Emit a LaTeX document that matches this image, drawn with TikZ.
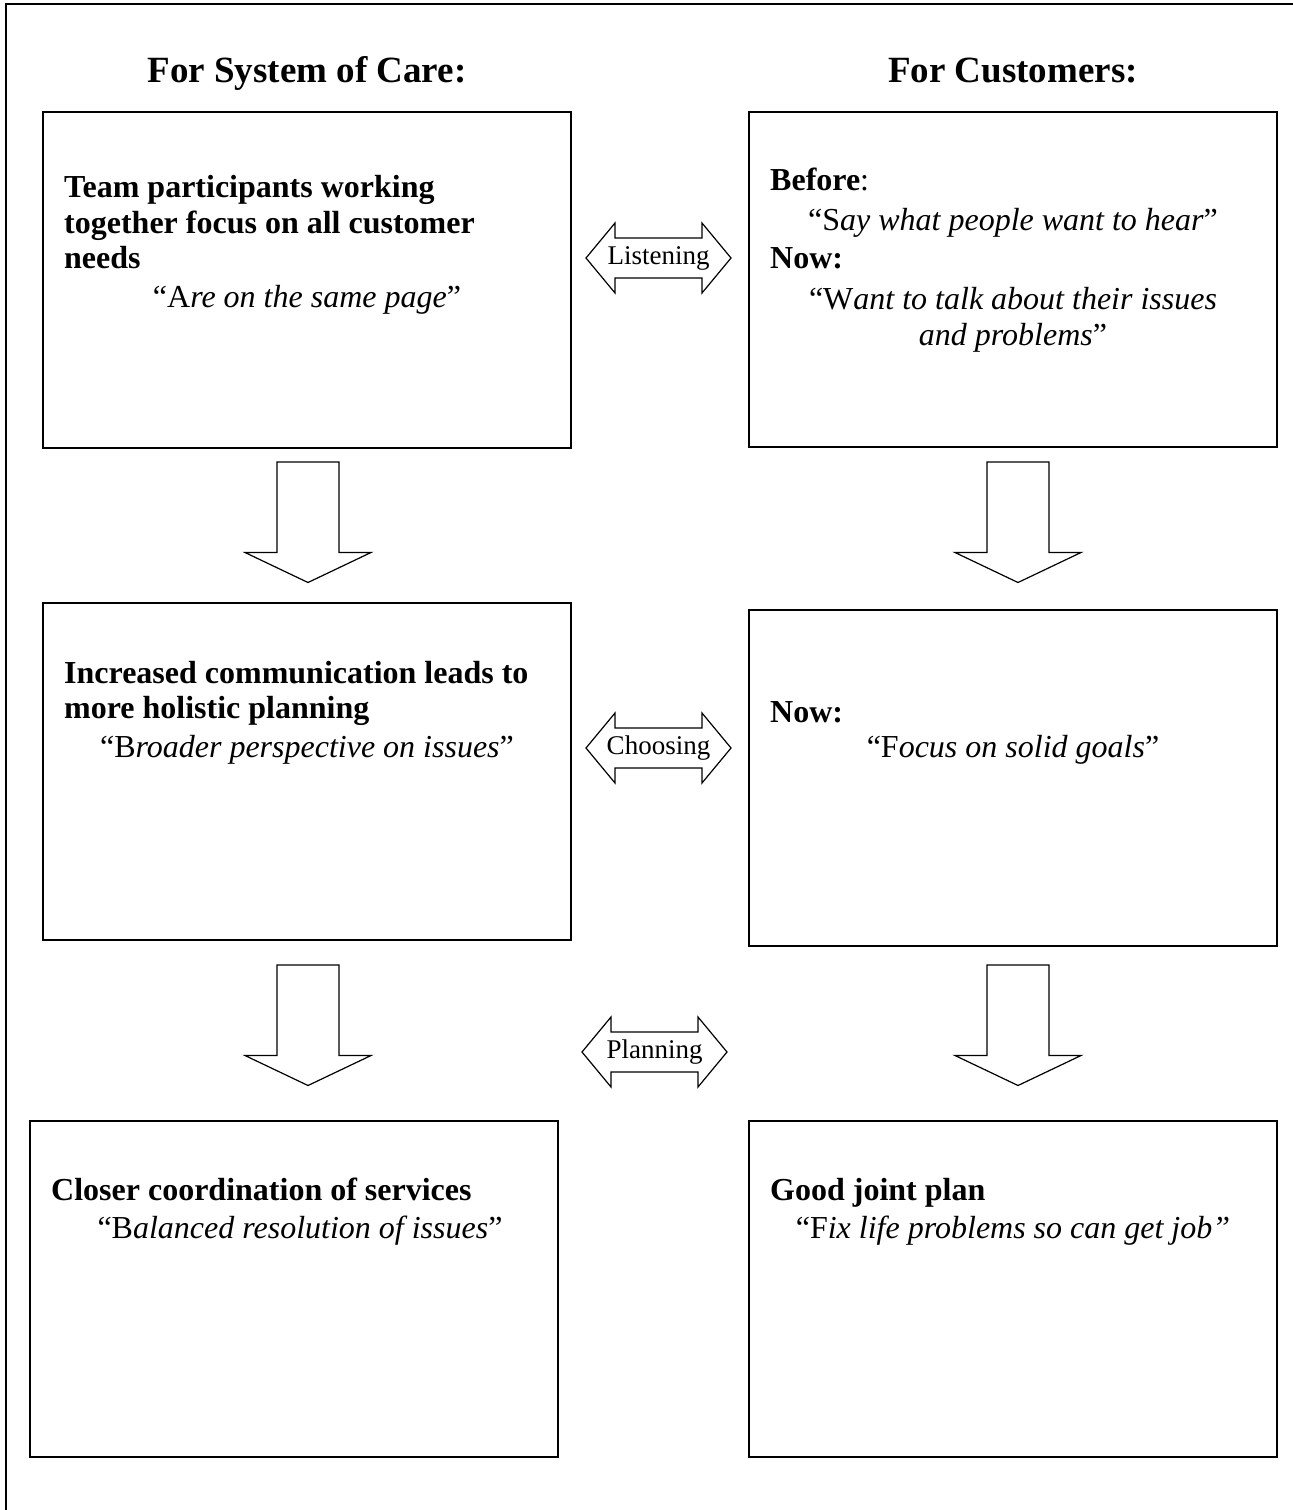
\documentclass[tikz,border=0pt]{standalone}
\usepackage{fontspec}
\setmainfont{Liberation Serif}
\begin{document}
\begin{tikzpicture}[x=1pt,y=-1pt,
  box/.style={draw, line width=2pt, inner sep=0pt},
  blockarrow/.style={draw, line width=1.2pt, line join=miter, fill=white},
  head/.style={font=\fontsize{37}{42}\selectfont\bfseries, anchor=base, inner sep=0pt},
  ttl/.style={font=\fontsize{32}{37}\selectfont\bfseries, anchor=base west, inner sep=0pt},
  quo/.style={font=\fontsize{32}{37}\selectfont, anchor=base, inner sep=0pt},
  lbl/.style={font=\fontsize{27}{31}\selectfont, inner sep=0pt}
]
\useasboundingbox (0,0) rectangle (1293,1510);
% outer frame (only top and left edges visible)
\draw[line width=2pt] (5.5,1530) -- (5.5,3.5) -- (1310,3.5);

% headings
\node[head] (h1) at (307,82) {For System of Care:};
\node[head] (h2) at (1013,82) {For Customers:};

% boxes
\node[box, minimum width=528, minimum height=336] (b1) at (307,280) {};
\node[box, minimum width=528, minimum height=335] (b2) at (1013,279.5) {};
\node[box, minimum width=528, minimum height=337] (b3) at (307,771.5) {};
\node[box, minimum width=528, minimum height=336] (b4) at (1013,778) {};
\node[box, minimum width=528, minimum height=336] (b5) at (294,1289) {};
\node[box, minimum width=528, minimum height=336] (b6) at (1013,1289) {};

% box 1 text
\node[ttl] (t1a) at (64,197) {Team participants working};
\node[ttl] (t1b) at (64,233) {together focus on all customer};
\node[ttl] (t1c) at (64,268) {needs};
\node[quo] (q1) at (307,307) {“A\textit{re on the same page}”};

% box 2 text
\node[font=\fontsize{32}{37}\selectfont, anchor=base west, inner sep=0pt] (t2a) at (770,190) {\textbf{Before}:};
\node[quo] (q2a) at (1013,230) {“S\textit{ay what people want to hear}”};
\node[ttl] (t2b) at (770,268) {Now:};
\node[quo] (q2b) at (1013,309) {“W\textit{ant to talk about their issues}};
\node[quo] (q2c) at (1013,345) {\textit{and problems}”};

% box 3 text
\node[ttl] (t3a) at (64,683) {Increased communication leads to};
\node[ttl] (t3b) at (64,718) {more holistic planning};
\node[quo] (q3) at (307,757) {“B\textit{roader perspective on issues}”};

% box 4 text
\node[ttl] (t4a) at (770,722) {Now:};
\node[quo] (q4) at (1013,757) {“F\textit{ocus on solid goals}”};

% box 5 text
\node[ttl] (t5a) at (51,1200) {Closer coordination of services};
\node[quo] (q5) at (300,1238) {“B\textit{alanced resolution of issues}”};

% box 6 text
\node[ttl] (t6a) at (770,1200) {Good joint plan};
\node[quo] (q6) at (1013,1238) {“F\textit{ix life problems so can get job”}};

% down block arrows
\foreach \cx/\ty in {308/462, 1018/462, 308/965, 1018/965}{
  \draw[blockarrow] (\cx-31,\ty) -- (\cx+31,\ty) -- (\cx+31,\ty+90.5) -- (\cx+63,\ty+90.5)
     -- (\cx,\ty+120.5) -- (\cx-63,\ty+90.5) -- (\cx-31,\ty+90.5) -- cycle;
}

% double block arrows
\foreach \lx/\cy in {586/258, 586/748, 582/1052}{
  \draw[blockarrow] (\lx,\cy) -- (\lx+29,\cy-35) -- (\lx+29,\cy-20) -- (\lx+116,\cy-20)
     -- (\lx+116,\cy-35) -- (\lx+145,\cy) -- (\lx+116,\cy+35) -- (\lx+116,\cy+20)
     -- (\lx+29,\cy+20) -- (\lx+29,\cy+35) -- cycle;
}
\node[lbl] (l1) at (658.5,258) {Listening};
\node[lbl] (l2) at (658.5,748) {Choosing};
\node[lbl] (l3) at (654.5,1052) {Planning};
\end{tikzpicture}
\end{document}
